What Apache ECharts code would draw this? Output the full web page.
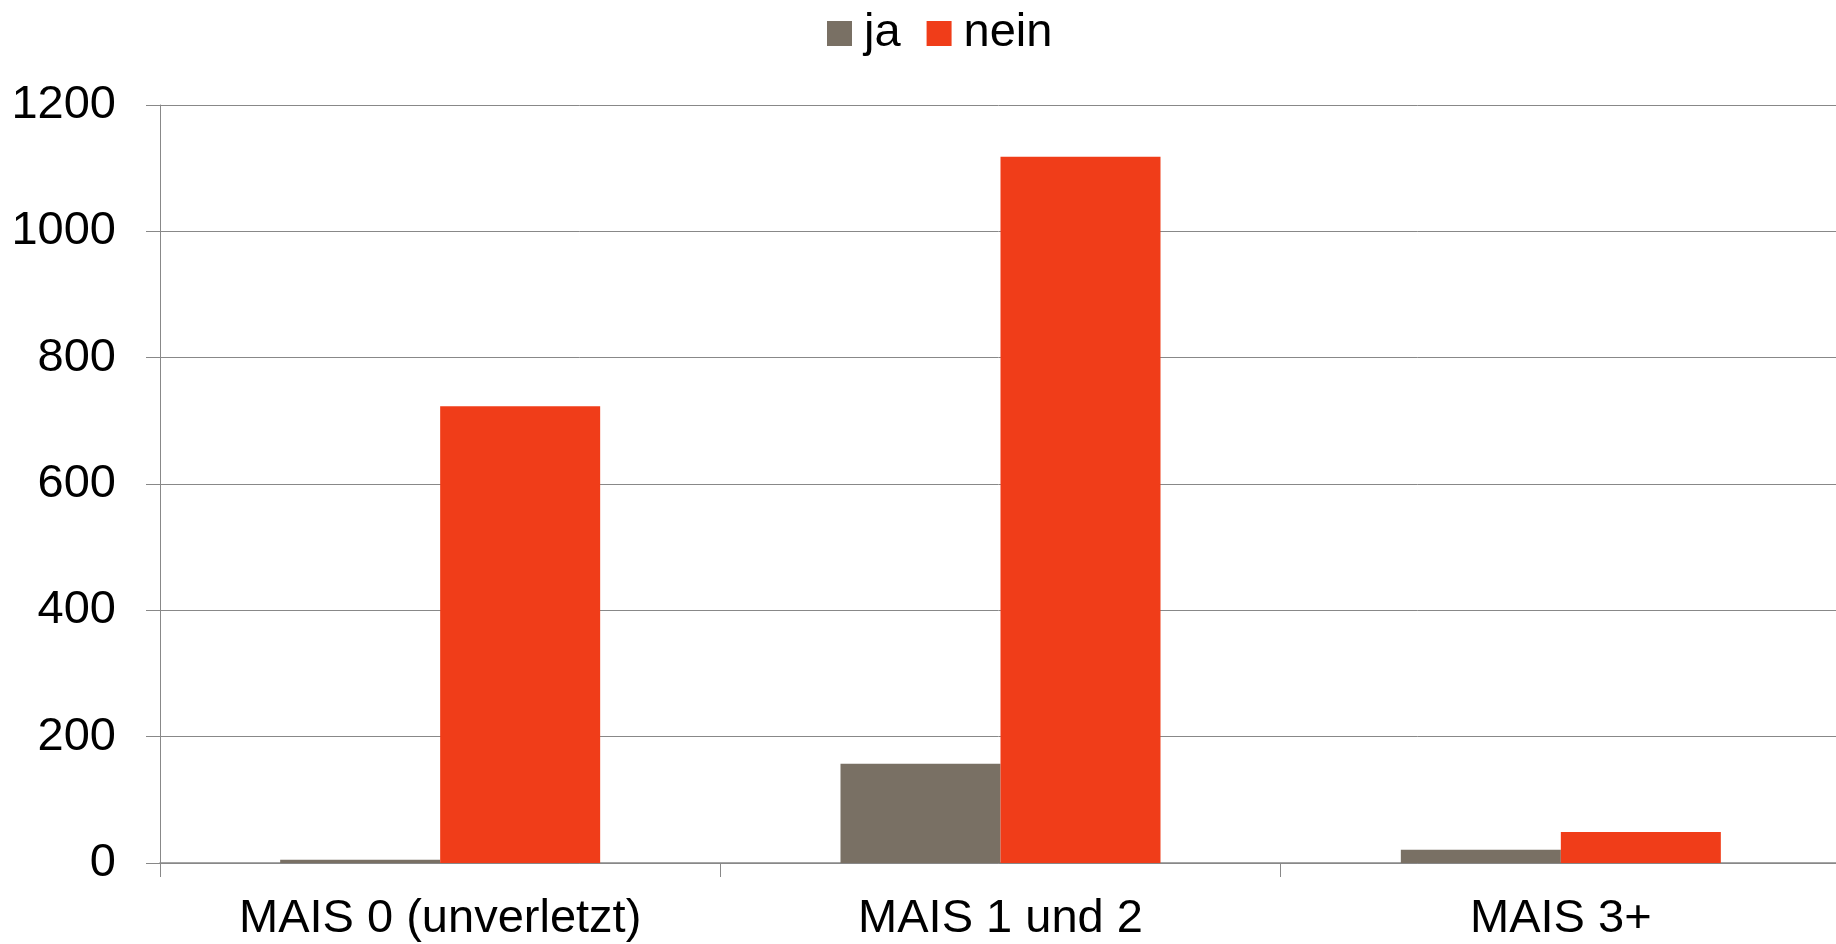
<!DOCTYPE html>
<html>
<head>
<meta charset="utf-8">
<script src="https://cdn.jsdelivr.net/npm/echarts@6/dist/echarts.min.js"></script>
<style>html,body{margin:0;padding:0;background:#fff;}#c{width:1836px;height:944px;}</style>
</head>
<body>
<div id="c"></div>
<script>
const categories = ['MAIS 0 (unverletzt)', 'MAIS 1 und 2', 'MAIS 3+'];
const seriesNames = ['ja', 'nein'];
const jaValues = [5, 157, 21];
const neinValues = [723, 1118, 49];
const yTicks = [0, 200, 400, 600, 800, 1000, 1200];

const FONT = '"Liberation Sans", Arial, Helvetica, sans-serif';
const chart = echarts.init(document.getElementById('c'), null, {renderer: 'canvas'});
chart.setOption({
  animation: false,
  backgroundColor: '#ffffff',
  textStyle: {fontFamily: FONT},
  legend: {
    data: seriesNames,
    left: 822,
    top: 5,
    itemWidth: 25,
    itemHeight: 25,
    itemGap: 26,
    icon: 'rect',
    textStyle: {fontSize: 47, color: '#000', fontFamily: FONT, padding: [0, 0, 0, 7]}
  },
  grid: {left: 160, width: 1681, top: 105, bottom: 81, containLabel: false, outerBoundsMode: 'none'},
  xAxis: {
    type: 'category',
    data: categories,
    axisLine: {show: true, lineStyle: {color: '#888888', width: 1.5}},
    axisTick: {show: true, length: 14, alignWithLabel: false, lineStyle: {color: '#888888', width: 1}},
    axisLabel: {fontSize: 47, color: '#000', margin: 33, fontFamily: FONT}
  },
  yAxis: {
    type: 'value',
    min: yTicks[0],
    max: yTicks[yTicks.length - 1],
    interval: yTicks[1] - yTicks[0],
    axisLine: {show: true, lineStyle: {color: '#888888', width: 1}},
    axisTick: {show: true, length: 14, lineStyle: {color: '#888888', width: 1}},
    splitLine: {show: true, lineStyle: {color: '#888888', width: 1}},
    axisLabel: {fontSize: 47, color: '#000', margin: 44, fontFamily: FONT, formatter: function (v) { return String(v); }}
  },
  series: [
    {name: seriesNames[0], type: 'bar', data: jaValues, barWidth: 160, barGap: '0%', itemStyle: {color: '#797064'}},
    {name: seriesNames[1], type: 'bar', data: neinValues, barWidth: 160, barGap: '0%', itemStyle: {color: '#f03d19'}}
  ]
});
</script>
</body>
</html>
